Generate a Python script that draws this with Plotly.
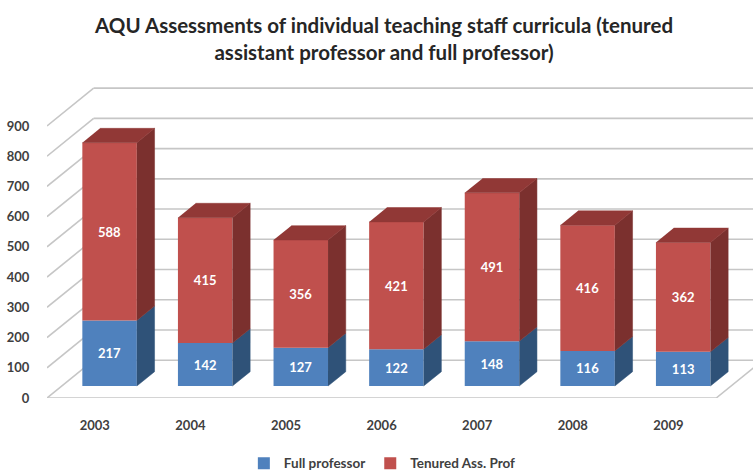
import plotly.graph_objects as go

years = ["2003", "2004", "2005", "2006", "2007", "2008", "2009"]
full_professor = [217, 142, 127, 122, 148, 116, 113]
tenured = [588, 415, 356, 421, 491, 416, 362]
y_ticks = [0, 100, 200, 300, 400, 500, 600, 700, 800, 900]

# oblique projection: depth d in 0..1 moves a point right and up, in axis units
DX, DY = 0.488, 125
D0, D1 = 0.317, 0.697
W = 0.57

BLUE, BLUE_SIDE = "#4F81BD", "#2F5278"
RED, RED_SIDE, RED_TOP = "#C0504D", "#7B302E", "#913836"
GRID = "#C6C6C6"
FONT = "Lato"
TXT = "#404040"


def proj(x, v, d):
    return x + d * DX, v + d * DY


fig = go.Figure()


def poly(pts, color):
    fig.add_trace(go.Scatter(x=[p[0] for p in pts], y=[p[1] for p in pts], mode="lines",
                             fill="toself", fillcolor=color, line=dict(color=color, width=0.5),
                             showlegend=False, hoverinfo="skip", cliponaxis=False))


def line(pts):
    for p, q in zip(pts, pts[1:]):
        fig.add_shape(type="line", xref="x", yref="y", layer="below",
                      x0=p[0], y0=p[1], x1=q[0], y1=q[1],
                      line=dict(color=GRID, width=1.6))


x0, x1 = -0.5, len(years) - 0.5
for v in y_ticks:
    line([proj(x0, v, 0), proj(x0, v, 1), proj(x1 + 0.6, v, 1)])
line([proj(x0, 0, 0), proj(x1, 0, 0), proj(x1, 0, 1)])

for i in range(len(years)):
    a, b = i - W / 2, i + W / 2
    f, t = full_professor[i], full_professor[i] + tenured[i]
    poly([proj(b, 0, D0), proj(b, 0, D1), proj(b, f, D1), proj(b, f, D0)], BLUE_SIDE)
    poly([proj(b, f, D0), proj(b, f, D1), proj(b, t, D1), proj(b, t, D0)], RED_SIDE)
    poly([proj(a, t, D0), proj(b, t, D0), proj(b, t, D1), proj(a, t, D1)], RED_TOP)

bar_x = [proj(i, 0, D0)[0] for i in range(len(years))]
base_y = D0 * DY
fig.add_trace(go.Bar(name="Full professor", x=bar_x, y=full_professor,
                     base=[base_y] * len(years), width=W, marker=dict(color=BLUE, line_width=0),
                     text=[str(v) for v in full_professor], textposition="inside",
                     insidetextanchor="middle", textangle=0,
                     insidetextfont=dict(color="white", family=FONT, size=13, weight="bold")))
fig.add_trace(go.Bar(name="Tenured Ass. Prof", x=bar_x, y=tenured,
                     base=[base_y + v for v in full_professor], width=W,
                     marker=dict(color=RED, line_width=0),
                     text=[str(v) for v in tenured], textposition="inside",
                     insidetextanchor="middle", textangle=0,
                     insidetextfont=dict(color="white", family=FONT, size=13, weight="bold")))

fig.update_layout(
    width=753, height=470, margin=dict(l=47, r=0, t=80, b=71.7),
    paper_bgcolor="white", plot_bgcolor="white", barmode="overlay",
    font=dict(family=FONT, color=TXT),
    title=dict(text="AQU Assessments of individual teaching staff curricula (tenured<br>"
                    "assistant professor and full professor)",
               x=0.51, xanchor="center", y=0.93, yanchor="top",
               font=dict(family=FONT, size=20.5, color="#262626", weight="bold")),
    xaxis=dict(range=[x0, x0 + 706 / 95.6], tickmode="array", tickvals=list(range(len(years))),
               ticktext=years, showgrid=False, zeroline=False, showline=False, automargin=False,
               ticks="outside", ticklen=15, tickcolor="rgba(0,0,0,0)",
               tickfont=dict(family=FONT, size=13, color=TXT, weight="bold")),
    yaxis=dict(range=[0, 1052], tickmode="array", tickvals=y_ticks, showgrid=False,
               zeroline=False, showline=False, ticks="outside", ticklen=14, automargin=False,
               tickcolor="rgba(0,0,0,0)",
               tickfont=dict(family=FONT, size=13, color=TXT, weight="bold")),
    legend=dict(orientation="h", yref="container", x=0.475, xanchor="center", y=0.047, yanchor="top",
                itemwidth=30, font=dict(family=FONT, size=13.5, color=TXT, weight="bold"),
                traceorder="normal"),
)

fig.write_html("out.html", config={"displayModeBar": False},
               post_script="document.body.style.margin='0';")
